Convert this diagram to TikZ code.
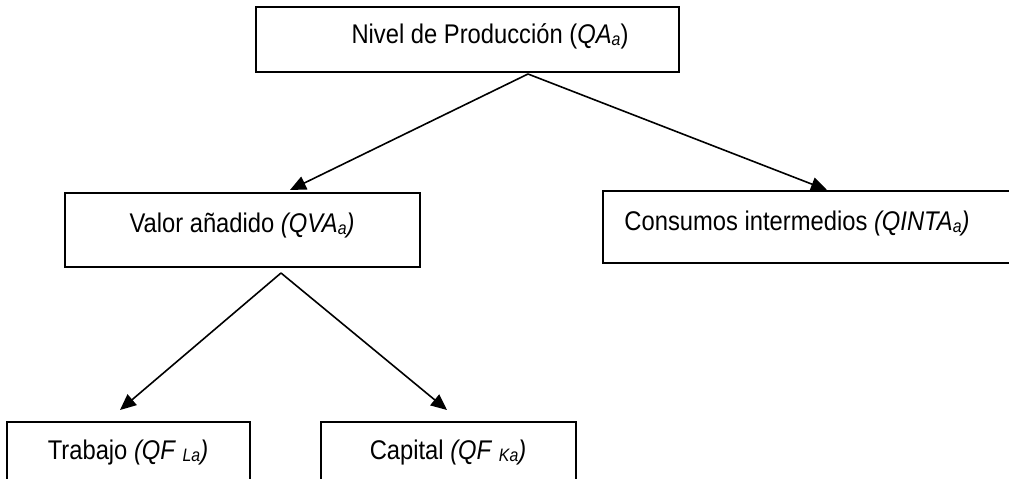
\documentclass[tikz,border=0pt]{standalone}
\usepackage{fontspec}
\setmainfont{Liberation Sans}[FakeStretch=0.88]
\usetikzlibrary{arrows.meta}
\newcommand{\sbx}[1]{\raisebox{-2pt}{\fontsize{18}{18}\selectfont #1}}
\begin{document}
\begin{tikzpicture}[x=1pt,y=-1pt,
  box/.style={draw, line width=2pt, rectangle, inner sep=0pt},
  lbl/.style={inner sep=0pt, anchor=base, font=\fontsize{27}{32}\selectfont},
  arr/.style={line width=1.6pt, -{Triangle[length=16pt,width=14pt]}}]
\clip (0,0) rectangle (1009,479);
\fill[white] (0,0) rectangle (1009,479);
% boxes
\node[box, minimum width=423pt, minimum height=65pt] (top) at (467.5,39.5) {};
\node[box, minimum width=355pt, minimum height=74pt] (valor) at (242.5,230) {};
\node[box, minimum width=412pt, minimum height=72pt] (cons) at (809,227) {};
\node[box, minimum width=243pt, minimum height=78pt] (trab) at (128.5,461) {};
\node[box, minimum width=255pt, minimum height=78pt] (capi) at (448.5,461) {};
% labels
\node[lbl] (toptext) at (490,43) {Nivel de Producción (\textit{QA}\sbx{\textit{a}})};
\node[lbl] (valortext) at (242,232) {Valor añadido \textit{(QVA}\sbx{\textit{a}}\textit{)}};
\node[lbl] (constext) at (797,230) {Consumos intermedios \textit{(QINTA}\sbx{\textit{a}}\textit{)}};
\node[lbl] (trabtext) at (128,459) {Trabajo \textit{(QF }\sbx{\textit{La}}\textit{)}};
\node[lbl] (capitext) at (448,459) {Capital \textit{(QF }\sbx{\textit{Ka}}\textit{)}};
% connector points
\coordinate (a1) at (528,74);
\coordinate (t1) at (290,190);
\coordinate (t2) at (827,190);
\coordinate (a2) at (281,273);
\coordinate (t3) at (120,410);
\coordinate (t4) at (447,410);
\draw[arr] (a1) -- (t1);
\draw[arr] (a1) -- (t2);
\draw[arr] (a2) -- (t3);
\draw[arr] (a2) -- (t4);
\end{tikzpicture}
\end{document}
